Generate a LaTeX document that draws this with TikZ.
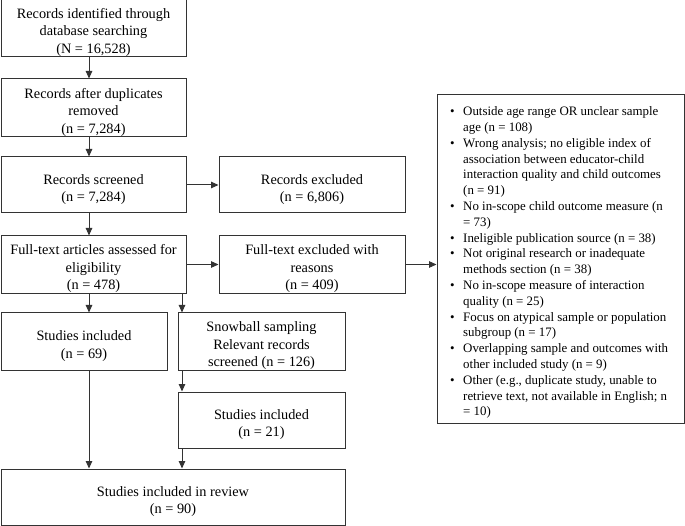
\documentclass[tikz,border=0pt]{standalone}
\usepackage{fontspec}
\setmainfont{Liberation Serif}
\usetikzlibrary{arrows.meta}
\newcommand{\lowstrut}{\rule{0pt}{19pt}}
\tikzset{
  flowbox/.style={draw=black!80, line width=1pt, inner sep=0pt, align=center,
    font=\fontsize{14.3}{17.5}\selectfont, text=black},
  listframe/.style={draw=black!80, line width=1pt, inner sep=0pt},
  listtext/.style={inner sep=0pt, anchor=north west, align=left,
    font=\fontsize{12.9}{15.8}\selectfont, text=black},
  arr/.style={draw=black!80, line width=1pt, -{Triangle[length=7.5pt,width=6.5pt]}},
}
\begin{document}
\begin{tikzpicture}[x=1pt,y=-1pt]
\useasboundingbox (0,0) rectangle (685,526);
\coordinate (colA) at (89,0);
\coordinate (colB) at (182,0);
\node[flowbox, minimum width=185pt, minimum height=54pt] (b1) at (93.5,28)
  {\lowstrut Records identified through\\database searching\\(N = 16,528)};
\node[flowbox, minimum width=185pt, minimum height=58pt] (b2) at (93.5,108)
  {\lowstrut Records after duplicates\\removed\\(n = 7,284)};
\node[flowbox, minimum width=185pt, minimum height=56pt] (b3) at (93.5,185)
  {\lowstrut Records screened\\(n = 7,284)};
\node[flowbox, minimum width=186pt, minimum height=56pt] (rexcl) at (312,185)
  {\lowstrut Records excluded\\(n = 6,806)};
\node[flowbox, minimum width=185pt, minimum height=55pt] (b4) at (93.5,264.5)
  {\lowstrut Full-text articles assessed for\\eligibility\\(n = 478)};
\node[flowbox, minimum width=186pt, minimum height=55pt] (ftex) at (312,264.5)
  {\lowstrut Full-text excluded with\\reasons\\(n = 409)};
\node[flowbox, minimum width=166pt, minimum height=57pt] (s69) at (84,341.5)
  {\lowstrut Studies included\\(n = 69)};
\node[flowbox, minimum width=167pt, minimum height=57pt] (snow) at (261.5,341.5)
  {\lowstrut Snowball sampling\\Relevant records\\screened (n = 126)};
\node[flowbox, minimum width=167pt, minimum height=56pt] (s21) at (261.5,420)
  {\lowstrut Studies included\\(n = 21)};
\node[flowbox, minimum width=344pt, minimum height=56pt] (final) at (173,497)
  {\lowstrut Studies included in review\\(n = 90)};
\node[listframe, minimum width=247pt, minimum height=328pt] (list) at (560.5,259) {};
\node[listtext] (listtxt) at (450,104.5)
  {\begin{tabular}{@{}l@{\hspace{8.5pt}}l@{}}
  \textbullet & Outside age range OR unclear sample\\
   & age (n = 108)\\
  \textbullet & Wrong analysis; no eligible index of\\
   & association between educator-child\\
   & interaction quality and child outcomes\\
   & (n = 91)\\
  \textbullet & No in-scope child outcome measure (n\\
   & = 73)\\
  \textbullet & Ineligible publication source (n = 38)\\
  \textbullet & Not original research or inadequate\\
   & methods section (n = 38)\\
  \textbullet & No in-scope measure of interaction\\
   & quality (n = 25)\\
  \textbullet & Focus on atypical sample or population\\
   & subgroup (n = 17)\\
  \textbullet & Overlapping sample and outcomes with\\
   & other included study (n = 9)\\
  \textbullet & Other (e.g., duplicate study, unable to\\
   & retrieve text, not available in English; n\\
   & = 10)
  \end{tabular}};
\draw[arr] (b1.south -| colA) -- (b2.north -| colA);
\draw[arr] (b2.south -| colA) -- (b3.north -| colA);
\draw[arr] (b3.south -| colA) -- (b4.north -| colA);
\draw[arr] (b4.south -| colA) -- (s69.north -| colA);
\draw[arr] (s69.south -| colA) -- (final.north -| colA);
\draw[arr] (b4.south -| colB) -- (snow.north -| colB);
\draw[arr] (snow.south -| colB) -- (s21.north -| colB);
\draw[arr] (s21.south -| colB) -- (final.north -| colB);
\draw[arr] (b3.east) -- (rexcl.west);
\draw[arr] (b4.east) -- (ftex.west);
\draw[arr] (ftex.east) -- (ftex.east -| list.west);
\end{tikzpicture}
\end{document}
